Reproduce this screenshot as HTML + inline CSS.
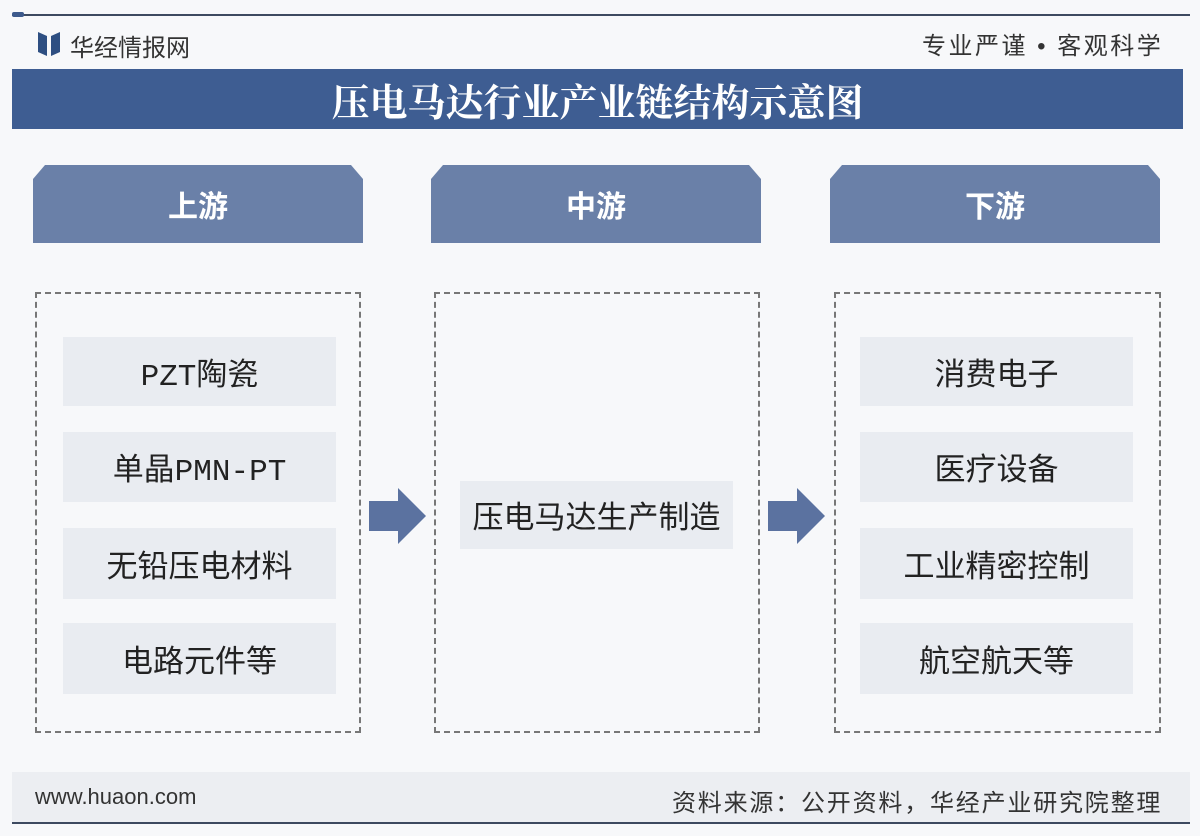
<!DOCTYPE html>
<html><head><meta charset="utf-8"><style>
*{margin:0;padding:0;box-sizing:border-box}
body{width:1200px;height:836px;background:#f7f8fa;position:relative;overflow:hidden;font-family:"Liberation Sans","Noto Sans CJK SC",sans-serif}
.a{position:absolute}
.hdr{background:#6a80a8;color:#fff;font-size:30px;font-weight:bold;display:flex;align-items:center;justify-content:center;clip-path:polygon(12px 0,calc(100% - 12px) 0,100% 14px,100% 100%,0 100%,0 14px)}
.dash{border:2px dashed #777}
.item{background:#e9ecf1;display:flex;align-items:center;justify-content:center;font-size:31px;color:#222;font-family:"Liberation Mono","Noto Sans CJK SC",monospace}
</style></head><body>
<div class="a" style="left:12px;top:14px;width:1178px;height:2px;background:#3d4a60"></div>
<div class="a" style="left:12px;top:12px;width:12px;height:5px;background:#3d5a8c;border-radius:2px"></div>
<div class="a" style="left:38px;top:32px;width:22px;height:24px">
<svg width="22" height="24"><polygon points="0,0 9,4 9,24 0,20" fill="#2e4f82"/><polygon points="22,0 13,4 13,24 22,20" fill="#2e4f82"/></svg></div>
<div class="a" style="left:70px;top:28px;font-size:24px;color:#333">华经情报网</div>
<div class="a" style="left:922px;top:26px;font-size:24px;color:#333;letter-spacing:2.5px">专业严谨 • 客观科学</div>
<div class="a" style="left:12px;top:69px;width:1171px;height:60px;background:#3e5d92;color:#fff;font-size:38px;font-weight:bold;display:flex;align-items:center;justify-content:center;font-family:'Noto Serif CJK SC',serif">压电马达行业产业链结构示意图</div>

<div class="a hdr" style="left:33px;top:165px;width:330px;height:78px">上游</div>
<div class="a hdr" style="left:431px;top:165px;width:330px;height:78px">中游</div>
<div class="a hdr" style="left:830px;top:165px;width:330px;height:78px">下游</div>

<div class="a dash" style="left:35px;top:292px;width:326px;height:441px"></div>
<div class="a dash" style="left:434px;top:292px;width:326px;height:441px"></div>
<div class="a dash" style="left:834px;top:292px;width:327px;height:441px"></div>

<div class="a item" style="left:63px;top:337px;width:273px;height:69px">PZT陶瓷</div>
<div class="a item" style="left:63px;top:432px;width:273px;height:70px">单晶PMN-PT</div>
<div class="a item" style="left:63px;top:528px;width:273px;height:71px">无铅压电材料</div>
<div class="a item" style="left:63px;top:623px;width:273px;height:71px">电路元件等</div>

<div class="a item" style="left:460px;top:481px;width:273px;height:68px">压电马达生产制造</div>

<div class="a item" style="left:860px;top:337px;width:273px;height:69px">消费电子</div>
<div class="a item" style="left:860px;top:432px;width:273px;height:70px">医疗设备</div>
<div class="a item" style="left:860px;top:528px;width:273px;height:71px">工业精密控制</div>
<div class="a item" style="left:860px;top:623px;width:273px;height:71px">航空航天等</div>

<svg class="a" style="left:369px;top:488px" width="58" height="57"><polygon points="0,13 29,13 29,0 57,28 29,56 29,43 0,43" fill="#5b72a0"/></svg>
<svg class="a" style="left:768px;top:488px" width="58" height="57"><polygon points="0,13 29,13 29,0 57,28 29,56 29,43 0,43" fill="#5b72a0"/></svg>

<div class="a" style="left:12px;top:772px;width:1178px;height:50px;background:#eceef2"></div>
<div class="a" style="left:35px;top:784px;font-size:22px;color:#333">www.huaon.com</div>
<div class="a" style="left:672px;top:783px;font-size:24px;color:#333;letter-spacing:1.8px">资料来源：公开资料，华经产业研究院整理</div>
<div class="a" style="left:12px;top:822px;width:1178px;height:2px;background:#3d4a60"></div>
</body></html>
